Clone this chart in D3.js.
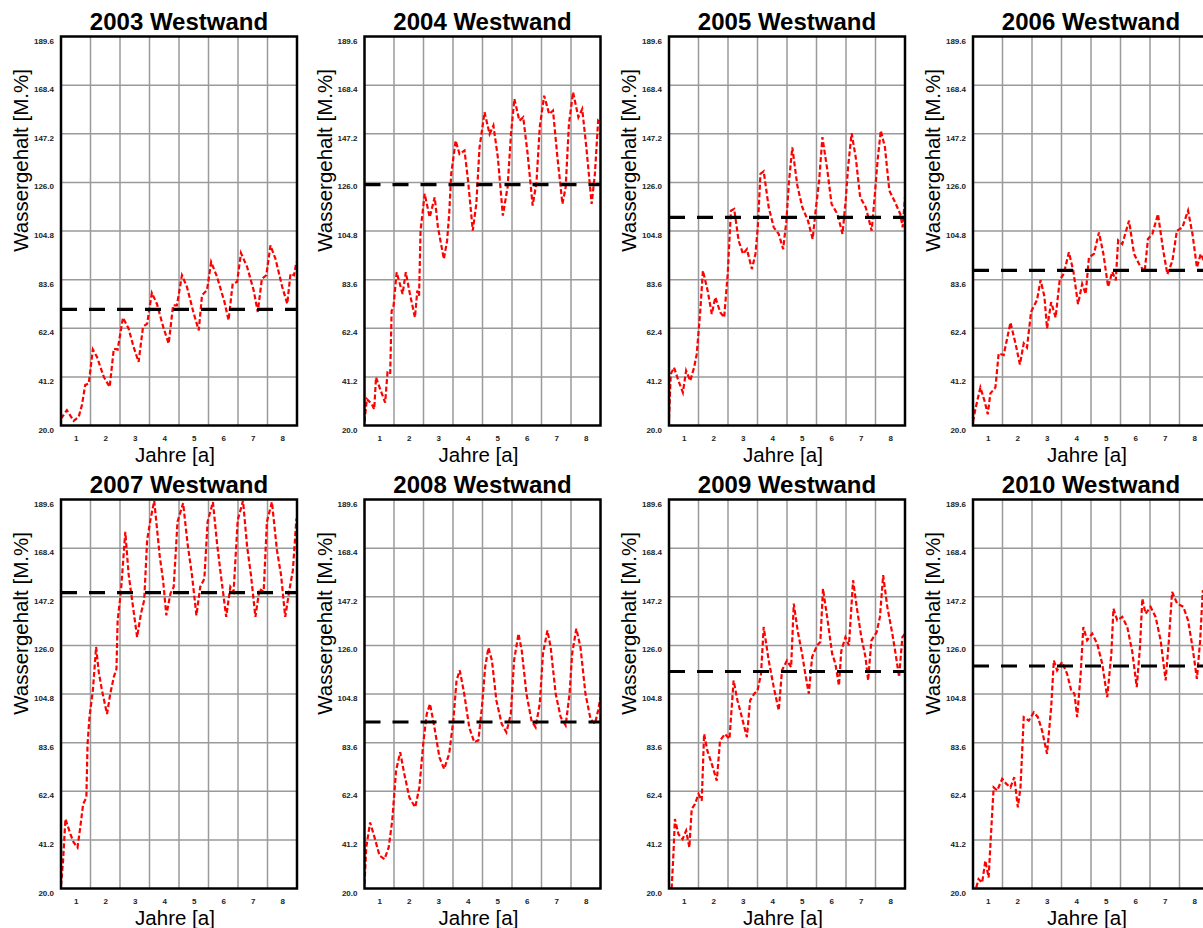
<!DOCTYPE html>
<html>
<head>
<meta charset="utf-8">
<script src="https://cdn.jsdelivr.net/npm/d3@7"></script>
<style>
  body { margin: 0; background: #fff; }
  svg { display: block; }
</style>
</head>
<body>
<svg id="chart" width="1203" height="928"></svg>
<script>
// Panel titles and the long-term mean water content per wall (black dashed line)
const panelTitles = ["2003 Westwand", "2004 Westwand", "2005 Westwand", "2006 Westwand",
                     "2007 Westwand", "2008 Westwand", "2009 Westwand", "2010 Westwand"];
const meanLevels = [70.6, 125.0, 110.7, 87.6, 149.0, 92.6, 114.6, 117.0];

// Axis ticks
const yTickValues = [20.0, 41.2, 62.4, 83.6, 104.8, 126.0, 147.2, 168.4, 189.6];
const xTickValues = [1, 2, 3, 4, 5, 6, 7, 8];
const yearBoundaries = [1.5, 2.5, 3.5, 4.5, 5.5, 6.5, 7.5];

// Simulated water content [M.%] over years [a], one series per start year
const s2003 = [[0.5,23.0],[0.70,26.7],[0.93,22.0],[1.10,23.8],[1.21,28.9],[1.32,37.6],[1.44,38.3],[1.58,53.1],[1.72,49.9],[1.95,41.2],[2.15,36.8],[2.29,53.5],[2.42,53.1],[2.60,67.0],[2.79,62.3],[2.96,54.3],[3.13,47.7],[3.28,63.0],[3.42,64.4],[3.58,77.8],[3.75,73.1],[3.98,62.3],[4.15,55.7],[4.30,72.4],[4.43,72.4],[4.60,85.5],[4.77,80.4],[5.00,68.8],[5.17,61.5],[5.28,76.8],[5.45,79.0],[5.59,91.3],[5.79,84.8],[6.04,73.9],[6.18,65.9],[6.32,81.9],[6.47,82.6],[6.60,95.2],[6.81,89.1],[7.03,79.0],[7.17,69.5],[7.31,84.0],[7.46,85.5],[7.60,98.5],[7.77,92.7],[8.00,80.4],[8.17,73.1],[8.28,86.2],[8.40,85.5],[8.48,91.3]];
const s2004 = [[0.5,21.7],[0.58,31.5],[0.75,29.3],[0.83,27.1],[0.89,41.0],[1.03,35.9],[1.20,30.0],[1.28,43.1],[1.37,42.4],[1.42,70.0],[1.48,71.5],[1.59,86.8],[1.70,81.7],[1.79,77.3],[1.90,86.8],[2.04,77.3],[2.21,67.1],[2.29,78.8],[2.35,76.6],[2.40,105.0],[2.54,121.0],[2.71,110.8],[2.88,119.5],[2.99,106.4],[3.19,92.6],[3.30,100.6],[3.37,112.2],[3.44,129.7],[3.59,144.2],[3.72,138.4],[3.89,139.9],[4.01,126.8],[4.17,105.0],[4.29,116.6],[4.40,141.3],[4.57,156.6],[4.74,147.1],[4.87,150.8],[5.02,136.9],[5.19,111.5],[5.35,123.9],[5.47,147.8],[5.58,162.4],[5.75,152.9],[5.88,154.4],[6.03,138.4],[6.20,115.9],[6.33,126.0],[6.44,150.0],[6.59,163.8],[6.76,155.8],[6.89,157.3],[7.04,136.9],[7.21,116.6],[7.32,123.9],[7.43,151.5],[7.57,165.3],[7.75,154.4],[7.88,158.0],[8.02,141.3],[8.20,116.6],[8.31,129.7],[8.42,152.9],[8.48,152.2]];
const s2005 = [[0.5,22.8],[0.56,42.4],[0.67,45.3],[0.82,39.5],[0.97,34.4],[1.08,43.9],[1.22,39.5],[1.35,45.3],[1.44,51.1],[1.56,70.0],[1.65,87.5],[1.81,78.8],[1.95,68.6],[2.07,75.9],[2.24,69.3],[2.37,67.1],[2.49,86.0],[2.60,113.7],[2.71,114.4],[2.86,100.6],[3.01,94.8],[3.14,96.9],[3.31,88.2],[3.43,94.8],[3.51,106.4],[3.60,129.7],[3.71,130.8],[3.88,115.1],[4.05,106.4],[4.22,103.5],[4.37,96.9],[4.48,109.3],[4.56,125.3],[4.68,141.3],[4.85,124.6],[5.02,115.1],[5.21,109.3],[5.37,101.3],[5.47,113.7],[5.59,126.8],[5.70,145.7],[5.87,131.1],[6.01,116.6],[6.21,112.2],[6.38,103.5],[6.49,118.0],[6.57,132.6],[6.69,147.4],[6.83,136.9],[6.98,119.5],[7.17,115.1],[7.37,104.9],[7.48,121.0],[7.57,135.5],[7.68,148.6],[7.82,141.3],[7.97,122.4],[8.14,118.0],[8.34,112.2],[8.42,106.4],[8.50,119.5]];
const s2006 = [[0.5,21.7],[0.58,27.1],[0.75,36.6],[0.89,30.8],[1.00,24.9],[1.09,34.0],[1.26,36.6],[1.37,51.4],[1.54,50.7],[1.77,64.9],[1.94,55.8],[2.09,46.6],[2.22,55.8],[2.33,54.0],[2.47,69.6],[2.67,74.7],[2.79,83.4],[2.92,76.3],[3.01,62.3],[3.15,73.8],[3.30,67.1],[3.44,83.4],[3.58,86.3],[3.75,95.5],[3.90,87.5],[4.06,72.9],[4.20,81.7],[4.32,77.3],[4.43,93.3],[4.60,94.8],[4.77,104.2],[4.92,94.8],[5.08,80.4],[5.22,87.0],[5.34,83.3],[5.42,100.7],[5.56,99.1],[5.79,109.3],[5.96,94.8],[6.13,90.4],[6.32,87.0],[6.43,101.3],[6.58,103.5],[6.77,112.2],[6.95,96.2],[7.09,85.9],[7.26,91.8],[7.41,104.9],[7.60,106.4],[7.79,113.7],[7.94,103.5],[8.09,88.9],[8.22,94.8],[8.39,90.0],[8.50,97.0]];
const s2007 = [[0.5,21.2],[0.57,32.1],[0.65,50.3],[0.82,43.7],[0.93,40.1],[1.06,37.9],[1.16,47.4],[1.25,56.8],[1.36,59.7],[1.40,83.0],[1.47,95.4],[1.58,106.3],[1.69,125.3],[1.78,114.3],[1.89,106.3],[2.06,96.1],[2.17,104.9],[2.29,112.2],[2.38,115.8],[2.42,136.9],[2.53,149.3],[2.68,175.5],[2.79,157.3],[2.91,145.7],[3.08,129.6],[3.21,139.8],[3.32,145.7],[3.42,171.9],[3.53,180.6],[3.66,189.0],[3.85,164.6],[3.96,154.4],[4.07,139.1],[4.21,148.6],[4.32,151.5],[4.45,179.9],[4.64,188.0],[4.79,170.4],[4.94,156.6],[5.09,139.1],[5.22,151.5],[5.36,155.1],[5.47,179.9],[5.65,188.5],[5.79,170.4],[5.92,156.6],[6.10,138.4],[6.24,151.5],[6.35,149.3],[6.49,180.6],[6.67,189.0],[6.81,169.0],[6.94,156.6],[7.09,138.4],[7.23,150.7],[7.37,149.3],[7.48,179.9],[7.65,188.5],[7.82,167.5],[7.96,156.6],[8.10,138.4],[8.25,150.7],[8.36,158.8],[8.48,181.3]];
const s2008 = [[0.5,21.9],[0.56,37.9],[0.69,48.8],[0.84,42.3],[1.01,34.3],[1.18,32.8],[1.32,37.9],[1.44,49.6],[1.57,71.4],[1.71,79.4],[1.85,69.9],[2.02,59.7],[2.22,55.4],[2.36,64.1],[2.49,83.0],[2.61,96.1],[2.72,100.5],[2.87,90.3],[3.04,77.2],[3.20,72.1],[3.37,78.7],[3.51,93.2],[3.62,110.7],[3.73,115.1],[3.88,104.9],[4.05,90.3],[4.22,83.8],[4.36,84.5],[4.48,99.1],[4.59,116.5],[4.70,125.0],[4.82,119.4],[4.97,102.0],[5.15,91.8],[5.31,88.1],[5.46,96.1],[5.57,119.4],[5.72,131.1],[5.83,123.8],[5.99,104.9],[6.16,93.2],[6.30,90.3],[6.44,100.5],[6.55,122.4],[6.70,132.5],[6.81,125.3],[6.98,104.9],[7.15,94.7],[7.32,91.1],[7.45,104.9],[7.54,122.4],[7.68,133.3],[7.82,125.3],[7.99,104.9],[8.16,94.0],[8.31,91.8],[8.42,97.6],[8.50,103.4]];
const s2009 = [[0.59,20.0],[0.65,35.0],[0.70,50.3],[0.82,43.7],[0.96,41.5],[1.08,45.2],[1.19,37.9],[1.27,54.7],[1.38,56.8],[1.50,61.2],[1.61,58.3],[1.69,87.4],[1.80,80.1],[1.95,74.3],[2.12,67.0],[2.23,84.5],[2.40,87.4],[2.55,85.2],[2.69,110.7],[2.82,102.0],[2.97,94.7],[3.14,86.0],[3.25,102.0],[3.39,104.9],[3.50,106.3],[3.62,113.6],[3.71,134.0],[3.88,119.4],[4.05,107.8],[4.22,97.6],[4.33,115.1],[4.50,119.4],[4.64,116.5],[4.73,144.2],[4.86,132.5],[5.01,122.4],[5.12,113.6],[5.24,104.9],[5.35,120.9],[5.52,126.0],[5.63,127.5],[5.72,150.7],[5.86,138.4],[6.03,122.4],[6.14,118.0],[6.26,108.5],[6.34,123.5],[6.48,129.6],[6.60,126.0],[6.74,154.4],[6.88,141.3],[7.02,129.6],[7.16,120.9],[7.25,110.7],[7.36,128.1],[7.54,131.8],[7.65,138.4],[7.76,156.6],[7.90,142.8],[8.07,131.1],[8.18,122.4],[8.30,112.2],[8.41,129.6],[8.50,131.1]];
const s2010 = [[0.61,20.4],[0.69,24.1],[0.81,22.6],[0.92,32.1],[1.03,24.8],[1.11,43.7],[1.20,64.1],[1.32,62.7],[1.49,67.8],[1.63,65.6],[1.77,64.1],[1.90,68.5],[2.02,55.4],[2.11,64.1],[2.22,94.7],[2.39,93.2],[2.56,96.8],[2.70,94.7],[2.84,88.9],[3.01,78.7],[3.15,99.0],[3.24,119.4],[3.35,115.1],[3.52,118.7],[3.69,113.6],[3.83,106.3],[3.94,104.9],[4.03,94.7],[4.15,113.6],[4.24,134.0],[4.37,128.2],[4.54,131.1],[4.71,126.7],[4.88,118.0],[5.05,103.4],[5.19,122.4],[5.26,142.0],[5.39,136.9],[5.56,138.4],[5.73,134.0],[5.90,123.1],[6.05,107.8],[6.16,125.3],[6.24,146.4],[6.35,139.8],[6.52,142.8],[6.69,138.4],[6.86,128.2],[7.03,110.7],[7.14,128.2],[7.25,149.3],[7.42,144.2],[7.63,142.8],[7.79,136.9],[7.94,125.3],[8.09,111.4],[8.20,128.2],[8.29,150.0],[8.39,145.6],[8.50,139.8]];
const seriesList = [s2003, s2004, s2005, s2006, s2007, s2008, s2009, s2010];

// Layout of the 4 x 2 grid of small multiples
const plotW = 236, plotH = 389;
const colLeft = [61, 364.5, 669, 973];
const rowTop = [36.5, 499.5];
const fontFamily = "'Liberation Sans', Arial, Helvetica, sans-serif";

const svg = d3.select("#chart");
svg.append("rect").attr("width", 1203).attr("height", 928).attr("fill", "#fff");

const x = d3.scaleLinear().domain([0.5, 8.5]).range([0, plotW]);
const y = d3.scaleLinear().domain([20.0, 189.6]).range([plotH, 0]);

const line = d3.line().x(d => x(d[0])).y(d => y(d[1]));

panelTitles.forEach((title, i) => {
  const col = i % 4, row = Math.floor(i / 4);
  const g = svg.append("g")
    .attr("transform", `translate(${colLeft[col]},${rowTop[row]})`);

  const clipId = "clip" + i;
  g.append("clipPath").attr("id", clipId)
    .append("rect").attr("width", plotW).attr("height", plotH);

  // grid
  g.append("g").selectAll("line").data(yearBoundaries).join("line")
    .attr("x1", d => x(d)).attr("x2", d => x(d))
    .attr("y1", 0).attr("y2", plotH)
    .attr("stroke", "#9a9a9a").attr("stroke-width", 1.5);
  g.append("g").selectAll("line").data(yTickValues.slice(1, -1)).join("line")
    .attr("x1", 0).attr("x2", plotW)
    .attr("y1", d => y(d)).attr("y2", d => y(d))
    .attr("stroke", "#9a9a9a").attr("stroke-width", 1.5);

  // axes (labels only)
  const yAxis = g.append("g")
    .call(d3.axisLeft(y).tickValues(yTickValues).tickFormat(d3.format(".1f")).tickSize(0).tickPadding(7));
  yAxis.select(".domain").remove();
  yAxis.selectAll("text")
    .attr("y", 4)
    .attr("font-family", fontFamily).attr("font-size", 8).attr("font-weight", "bold").attr("fill", "#222");

  const xAxis = g.append("g").attr("transform", `translate(0,${plotH})`)
    .call(d3.axisBottom(x).tickValues(xTickValues).tickFormat(d3.format("d")).tickSize(0).tickPadding(10));
  xAxis.select(".domain").remove();
  xAxis.selectAll("text")
    .attr("font-family", fontFamily).attr("font-size", 8).attr("font-weight", "bold").attr("fill", "#222");

  // water content series
  g.append("path")
    .attr("clip-path", `url(#${clipId})`)
    .attr("d", line(seriesList[i]))
    .attr("fill", "none")
    .attr("stroke", "#ff0000")
    .attr("stroke-width", 2.2)
    .attr("stroke-dasharray", "5,2.5");

  // mean level
  g.append("line")
    .attr("x1", 0).attr("x2", plotW)
    .attr("y1", y(meanLevels[i])).attr("y2", y(meanLevels[i]))
    .attr("stroke", "#000").attr("stroke-width", 3.2)
    .attr("stroke-dasharray", "16,12");

  // frame
  g.append("rect")
    .attr("width", plotW).attr("height", plotH)
    .attr("fill", "none").attr("stroke", "#000").attr("stroke-width", 2.5);

  // titles and axis labels
  g.append("text")
    .attr("x", plotW / 2).attr("y", -7)
    .attr("text-anchor", "middle")
    .attr("font-family", fontFamily).attr("font-size", 24).attr("font-weight", "bold")
    .text(title);

  g.append("text")
    .attr("transform", `translate(-33,${124}) rotate(-90)`)
    .attr("text-anchor", "middle")
    .attr("font-family", fontFamily).attr("font-size", 20.5)
    .text("Wassergehalt [M.%]");

  g.append("text")
    .attr("x", plotW / 2 - 4).attr("y", plotH + 36)
    .attr("text-anchor", "middle")
    .attr("font-family", fontFamily).attr("font-size", 20.5)
    .text("Jahre [a]");
});
</script>
</body>
</html>
